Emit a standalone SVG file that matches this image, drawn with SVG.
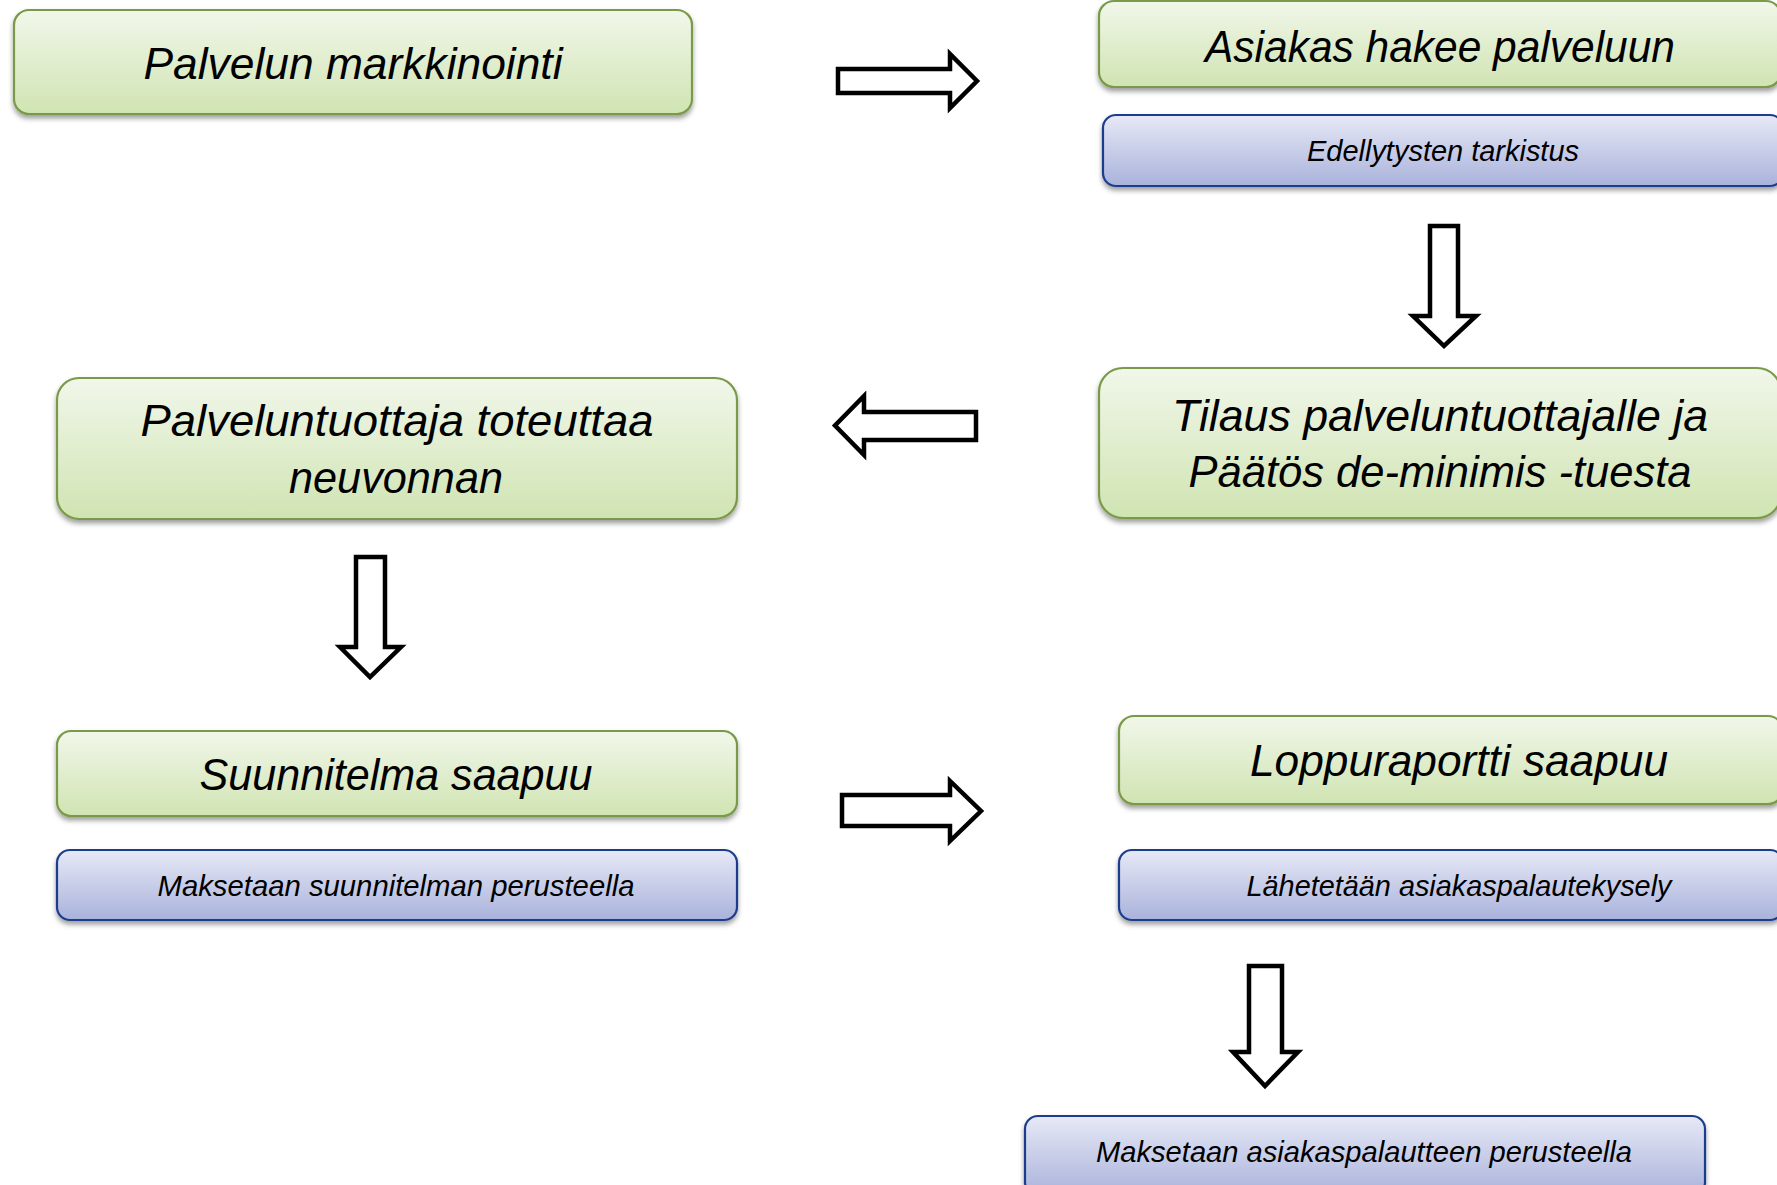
<svg xmlns="http://www.w3.org/2000/svg" width="1777" height="1185" viewBox="0 0 1777 1185">
<defs>
<linearGradient id="gGreen" x1="0" y1="0" x2="0" y2="1">
<stop offset="0" stop-color="#F1F7EA"/>
<stop offset="1" stop-color="#D0E4B2"/>
</linearGradient>
<linearGradient id="gBlue" x1="0" y1="0" x2="0" y2="1">
<stop offset="0" stop-color="#E7E9F6"/>
<stop offset="1" stop-color="#A9B2DB"/>
</linearGradient>
<filter id="shadow" x="-5%" y="-20%" width="110%" height="150%">
<feDropShadow dx="0" dy="3.5" stdDeviation="2.5" flood-color="#000" flood-opacity="0.38"/>
</filter>
</defs>
<style>
.green{fill:url(#gGreen);stroke:#7A9A48;stroke-width:2.2;filter:url(#shadow)}
.blue{fill:url(#gBlue);stroke:#1F3E8C;stroke-width:2.2;filter:url(#shadow)}
.big{font-family:"Liberation Sans",Arial,sans-serif;font-style:italic;font-size:45px;fill:#000;text-anchor:middle}
.small{font-family:"Liberation Sans",Arial,sans-serif;font-style:italic;font-size:29px;fill:#000;text-anchor:middle}
.arrow{fill:#fff;stroke:#000;stroke-width:4.5;stroke-linejoin:miter}
</style>
<rect width="1777" height="1185" fill="#fff"/>

<g id="node-markkinointi">
<rect class="green" x="14" y="10" width="678" height="104" rx="15"/>
<text class="big" x="353" y="79" textLength="419" lengthAdjust="spacingAndGlyphs">Palvelun markkinointi</text>
</g>

<g id="node-asiakas-hakee">
<rect class="green" x="1099" y="1" width="682" height="86" rx="15"/>
<text class="big" x="1440" y="62" textLength="470" lengthAdjust="spacingAndGlyphs">Asiakas hakee palveluun</text>
</g>

<g id="node-edellytysten">
<rect class="blue" x="1103" y="115" width="680" height="71" rx="13"/>
<text class="small" x="1443" y="161" textLength="272" lengthAdjust="spacingAndGlyphs">Edellytysten tarkistus</text>
</g>

<g id="node-tilaus">
<rect class="green" x="1099" y="368" width="682" height="150" rx="24"/>
<text class="big" x="1440" y="431" textLength="536" lengthAdjust="spacingAndGlyphs">Tilaus palveluntuottajalle ja</text>
<text class="big" x="1440" y="487" textLength="503" lengthAdjust="spacingAndGlyphs">Päätös de-minimis -tuesta</text>
</g>

<g id="node-toteuttaa">
<rect class="green" x="57" y="378" width="680" height="141" rx="22"/>
<text class="big" x="397" y="436" textLength="513" lengthAdjust="spacingAndGlyphs">Palveluntuottaja toteuttaa</text>
<text class="big" x="396" y="493" textLength="214" lengthAdjust="spacingAndGlyphs">neuvonnan</text>
</g>

<g id="node-suunnitelma">
<rect class="green" x="57" y="731" width="680" height="85" rx="14"/>
<text class="big" x="396" y="790" textLength="393" lengthAdjust="spacingAndGlyphs">Suunnitelma saapuu</text>
</g>

<g id="node-maksetaan-suunnitelma">
<rect class="blue" x="57" y="850" width="680" height="70" rx="13"/>
<text class="small" x="396" y="896" textLength="477" lengthAdjust="spacingAndGlyphs">Maksetaan suunnitelman perusteella</text>
</g>

<g id="node-loppuraportti">
<rect class="green" x="1119" y="716" width="664" height="88" rx="15"/>
<text class="big" x="1459" y="776" textLength="418" lengthAdjust="spacingAndGlyphs">Loppuraportti saapuu</text>
</g>

<g id="node-lahetetaan">
<rect class="blue" x="1119" y="850" width="664" height="70" rx="13"/>
<text class="small" x="1459" y="896" textLength="425" lengthAdjust="spacingAndGlyphs">Lähetetään asiakaspalautekysely</text>
</g>

<g id="node-maksetaan-asiakaspalaute">
<rect class="blue" x="1025" y="1116" width="680" height="80" rx="13"/>
<text class="small" x="1364" y="1162" textLength="536" lengthAdjust="spacingAndGlyphs">Maksetaan asiakaspalautteen perusteella</text>
</g>

<g id="connectors">
<path class="arrow" d="M838,69 H950 V54 L977,81 L950,108 V93 H838 Z"/>
<path class="arrow" d="M1430,226 H1458 V316 H1476 L1444,346 L1413,316 H1430 Z"/>
<path class="arrow" d="M976,412 H864 V396 L835,425.5 L864,455 V440 H976 Z"/>
<path class="arrow" d="M356,557 H385 V647 H401 L370,677 L340,647 H356 Z"/>
<path class="arrow" d="M842,795 H950 V781 L981,811 L950,841 V826 H842 Z"/>
<path class="arrow" d="M1249,966 H1282 V1052 H1298 L1265,1086 L1233,1052 H1249 Z"/>
</g>
</svg>
